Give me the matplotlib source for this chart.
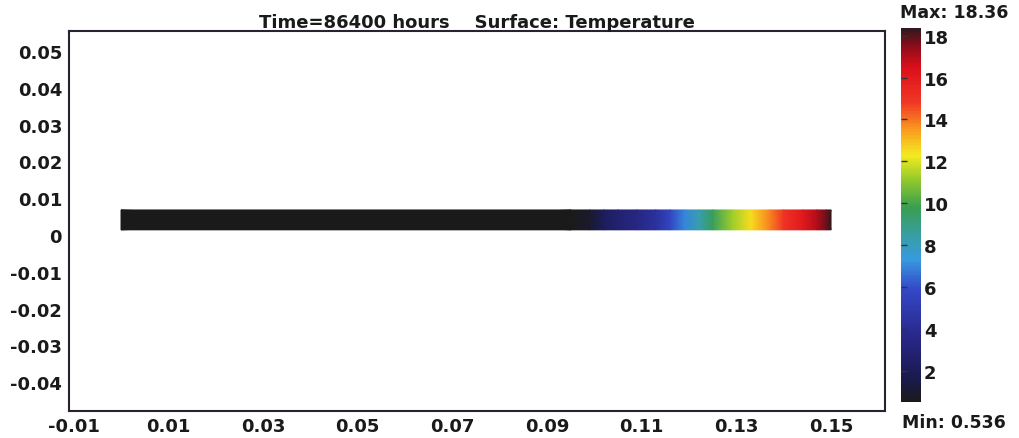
import numpy as np
import matplotlib
matplotlib.use("Agg")
import matplotlib.pyplot as plt
from matplotlib.colors import LinearSegmentedColormap, Normalize
from matplotlib.cm import ScalarMappable

# ---- data ----
title = "Time=86400 hours    Surface: Temperature"
t_min = 0.536
t_max = 18.36
# temperature profile along the bar (x in m, T)
bar_x = [0.0, 0.095, 0.099, 0.102, 0.105, 0.109, 0.113, 0.116, 0.119, 0.122,
         0.125, 0.129, 0.133, 0.137, 0.140, 0.144, 0.147, 0.149, 0.15]
bar_T = [0.536, 0.6, 1.0, 2.2, 2.9, 3.5, 4.3, 5.7, 7.0, 8.2,
         9.6, 11.2, 12.5, 13.8, 15.0, 16.0, 17.0, 17.8, 18.36]
bar_y = [0.0014, 0.0068]

x_ticks = [-0.01, 0.01, 0.03, 0.05, 0.07, 0.09, 0.11, 0.13, 0.15]
x_tick_labels = ["-0.01", "0.01", "0.03", "0.05", "0.07", "0.09", "0.11", "0.13", "0.15"]
y_ticks = [0.05, 0.04, 0.03, 0.02, 0.01, 0.0, -0.01, -0.02, -0.03, -0.04]
y_tick_labels = ["0.05", "0.04", "0.03", "0.02", "0.01", "0", "-0.01", "-0.02", "-0.03", "-0.04"]
cbar_ticks = [2, 4, 6, 8, 10, 12, 14, 16, 18]

# ---- colormap (COMSOL-like rainbow with dark ends) ----
cmap_nodes = [
    (0.00, (0.10, 0.10, 0.10)),
    (0.06, (0.10, 0.10, 0.30)),
    (0.18, (0.16, 0.16, 0.55)),
    (0.30, (0.20, 0.28, 0.78)),
    (0.38, (0.22, 0.60, 0.88)),
    (0.45, (0.22, 0.62, 0.62)),
    (0.52, (0.22, 0.62, 0.32)),
    (0.59, (0.55, 0.78, 0.18)),
    (0.66, (0.96, 0.92, 0.12)),
    (0.73, (0.98, 0.60, 0.12)),
    (0.80, (0.95, 0.22, 0.15)),
    (0.90, (0.85, 0.05, 0.10)),
    (0.96, (0.50, 0.05, 0.10)),
    (1.00, (0.18, 0.10, 0.12)),
]
cmap = LinearSegmentedColormap.from_list("comsol_rainbow", cmap_nodes)
norm = Normalize(vmin=t_min, vmax=t_max)

W, H = 1019, 439
fig = plt.figure(figsize=(W / 100, H / 100), dpi=100)
fig.patch.set_facecolor("white")

ax = fig.add_axes([69 / W, (H - 412) / H, 816 / W, 380 / H])
cax = fig.add_axes([901 / W, (H - 403) / H, 20 / W, 374 / H])

# bar surface
X = np.array(bar_x)
Y = np.array(bar_y)
C = np.vstack([bar_T, bar_T])
ax.pcolormesh(X, Y, C, cmap=cmap, norm=norm, shading="gouraud", antialiased=False)

ax.set_xlim(-0.01099, 0.1614)
ax.set_ylim(-0.0478, 0.0554)

frame_col = "#2a2233"
for s in ax.spines.values():
    s.set_color(frame_col)
    s.set_linewidth(1.5)

tick_font = dict(fontsize=13, fontweight="bold", color="#1a1a1a")
ax.set_xticks(x_ticks)
ax.set_xticklabels(x_tick_labels, **tick_font)
ax.set_yticks(y_ticks)
ax.set_yticklabels(y_tick_labels, **tick_font)
ax.tick_params(axis="both", length=0)
ax.tick_params(axis="x", pad=4)
ax.tick_params(axis="y", pad=5)

ax.set_title(title, fontsize=13, fontweight="bold", color="#1a1a1a", pad=3)

# colorbar
sm = ScalarMappable(norm=norm, cmap=cmap)
cb = fig.colorbar(sm, cax=cax, ticks=cbar_ticks)
cb.outline.set_visible(False)
cax.tick_params(axis="y", left=True, right=False, labelleft=False, labelright=True,
                direction="in", length=4, width=1, color="#333333", pad=2)
cax.set_yticklabels([str(t) for t in cbar_ticks], **tick_font)

fig.text(900 / W, (H - 13) / H, "Max: %.2f" % t_max, fontsize=12.5, fontweight="bold",
         color="#1a1a1a", ha="left", va="center")
fig.text(902 / W, (H - 423) / H, "Min: %.3f" % t_min, fontsize=12.5, fontweight="bold",
         color="#1a1a1a", ha="left", va="center")

fig.savefig("out.png", dpi=100, facecolor="white")
